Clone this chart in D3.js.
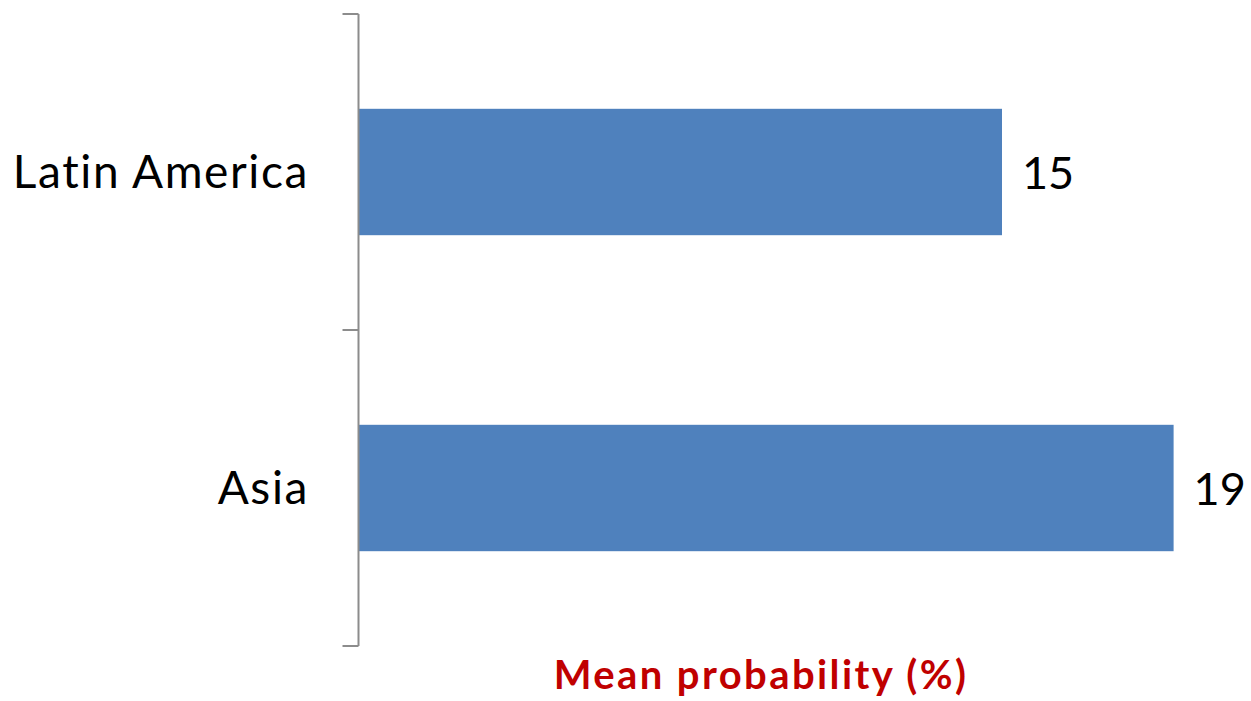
<!DOCTYPE html>
<html>
<head>
<meta charset="utf-8">
<script src="https://cdn.jsdelivr.net/npm/d3@7"></script>
<style>
  html, body { margin: 0; padding: 0; background: #ffffff; }
  svg { display: block; }
</style>
</head>
<body>
<script>
// Regions and their mean probability (%)
const categories = ["Latin America", "Asia"];
const values = [15, 19];
const axisTitle = "Mean probability (%)";

const width = 1251, height = 701;
const fontFamily = "Lato, 'Open Sans', 'Liberation Sans', sans-serif";

const svg = d3.select("body").append("svg")
  .attr("width", width)
  .attr("height", height);

const plotLeft = 358.5;
const plotTop = 14, plotBottom = 646;

const x = d3.scaleLinear().domain([0, 20]).range([plotLeft, plotLeft + 20 * 42.9]);
const y = d3.scaleBand()
  .domain(categories)
  .range([plotTop, plotBottom])
  .paddingInner(0.6)
  .paddingOuter(0.3);

// Bars
svg.selectAll("rect.bar")
  .data(categories)
  .join("rect")
  .attr("class", "bar")
  .attr("x", plotLeft)
  .attr("y", d => y(d))
  .attr("width", (d, i) => x(values[i]) - plotLeft)
  .attr("height", y.bandwidth())
  .attr("fill", "#4f81bd");

// Category axis: vertical line with ticks at the band boundaries
const axisColor = "#8c8c8c";
svg.append("line")
  .attr("x1", plotLeft).attr("x2", plotLeft)
  .attr("y1", plotTop).attr("y2", plotBottom)
  .attr("stroke", axisColor).attr("stroke-width", 2);

const boundaries = d3.range(categories.length + 1).map(i => plotTop + i * y.step());
svg.selectAll("line.tick")
  .data(boundaries)
  .join("line")
  .attr("class", "tick")
  .attr("x1", plotLeft - 16).attr("x2", plotLeft)
  .attr("y1", d => d).attr("y2", d => d)
  .attr("stroke", axisColor).attr("stroke-width", 2);

// Category labels
svg.selectAll("text.cat")
  .data(categories)
  .join("text")
  .attr("class", "cat")
  .attr("x", 309)
  .attr("y", d => y(d) + y.bandwidth() / 2)
  .attr("dy", "0.35em")
  .attr("text-anchor", "end")
  .attr("font-family", fontFamily)
  .attr("font-size", 46)
  .attr("letter-spacing", 1.6)
  .attr("fill", "#000")
  .text(d => d);

// Value labels
svg.selectAll("text.val")
  .data(categories)
  .join("text")
  .attr("class", "val")
  .attr("x", (d, i) => x(values[i]) + 20)
  .attr("y", d => y(d) + y.bandwidth() / 2)
  .attr("dy", "0.38em")
  .attr("font-family", fontFamily)
  .attr("font-size", 45)
  .attr("fill", "#000")
  .text((d, i) => values[i]);

// Axis title
svg.append("text")
  .attr("x", 761)
  .attr("y", 689)
  .attr("text-anchor", "middle")
  .attr("font-family", fontFamily)
  .attr("font-weight", "bold")
  .attr("font-size", 40)
  .attr("letter-spacing", 2.4)
  .attr("fill", "#c00000")
  .text(axisTitle);
</script>
</body>
</html>
